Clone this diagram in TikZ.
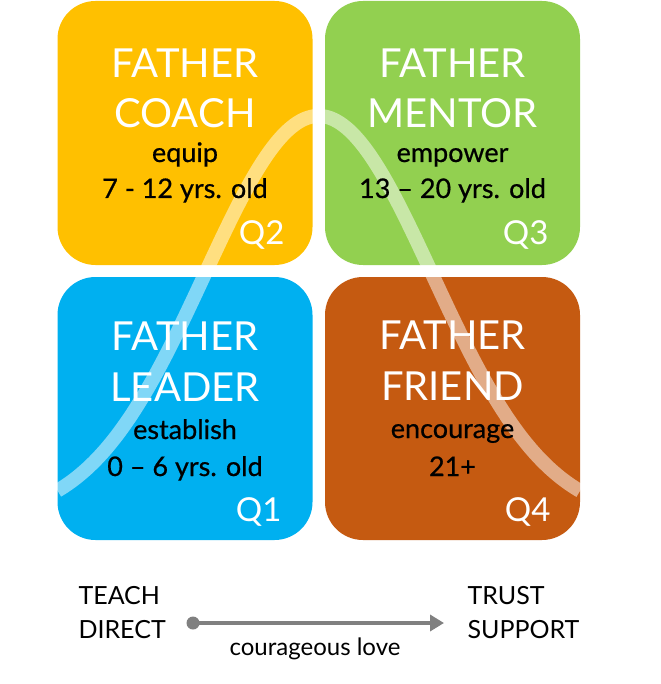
\documentclass[tikz,border=0pt]{standalone}
\usepackage{fontspec}
\setmainfont{Lato}
\newfontfamily\latomed{Lato}[FakeBold=0.6]
\usetikzlibrary{arrows.meta}
\definecolor{cyel}{HTML}{FFC000}
\definecolor{cgrn}{HTML}{92D050}
\definecolor{cblu}{HTML}{00B0F0}
\definecolor{corg}{HTML}{C55A11}
\definecolor{cgry}{HTML}{808080}
\begin{document}
\begin{tikzpicture}[x=1pt,y=-1pt,
  box/.style={rectangle, rounded corners=38pt, minimum width=255pt, minimum height=264pt, inner sep=0pt, draw=none},
  ttl/.style={anchor=base, text=white, font=\fontsize{40}{40}\selectfont},
  sub/.style={anchor=base, text=black, font=\latomed\fontsize{27}{27}\selectfont},
  qlab/.style={anchor=base east, text=white, font=\fontsize{33}{33}\selectfont},
  bot/.style={anchor=base west, text=black, font=\fontsize{25}{25}\selectfont}]
\useasboundingbox[fill=white] (0,0) rectangle (660,684);
% boxes
\node[box, fill=cyel] (q2) at (185,133) {};
\node[box, fill=cgrn] (q3) at (452.5,133) {};
\node[box, fill=cblu, minimum height=263pt] (q1) at (185,408.5) {};
\node[box, fill=corg, minimum height=263pt] (q4) at (452.5,408.5) {};
% curve
\draw[white, opacity=0.5, line width=14pt] plot[domain=57.5:580, samples=160, smooth]
  (\x, {520 - 404*exp(-0.5*((\x-318.5)/114)^2)});
% Q2
\node[ttl] (q2a) at (185,78) {FATHER};
\node[ttl] (q2b) at (185,128) {COACH};
\node[sub] (q2c) at (185,162) {equip};
\node[sub] (q2d) at (185,198) {7 - 12 yrs. old};
\node[qlab] (q2q) at (288,244) {Q2};
% Q3
\node[ttl] (q3a) at (452.5,78) {FATHER};
\node[ttl] (q3b) at (452.5,128) {MENTOR};
\node[sub] (q3c) at (452.5,162) {empower};
\node[sub] (q3d) at (452.5,198) {13 – 20 yrs. old};
\node[qlab] (q3q) at (552,244) {Q3};
% Q1
\node[ttl] (q1a) at (185,350) {FATHER};
\node[ttl] (q1b) at (185,401) {LEADER};
\node[sub] (q1c) at (185,439) {establish};
\node[sub] (q1d) at (185,476) {0 – 6 yrs. old};
\node[qlab] (q1q) at (285,521) {Q1};
% Q4
\node[ttl] (q4a) at (452.5,349) {FATHER};
\node[ttl] (q4b) at (452.5,400) {FRIEND};
\node[sub] (q4c) at (452.5,438) {encourage};
\node[sub] (q4d) at (452.5,476) {21+};
\node[qlab] (q4q) at (554,521) {Q4};
% bottom
\node[bot] (teach) at (75,604) {TEACH};
\node[bot] (direct) at (75,638) {DIRECT};
\node[bot] (trust) at (464,604) {TRUST};
\node[bot] (support) at (464,638) {SUPPORT};
\node[circle, fill=cgry, minimum size=13pt, inner sep=0pt] (dot) at (193,623) {};
\coordinate (tip) at (444,623);
\draw[cgry, line width=4pt, -{Triangle[length=14pt, width=16pt]}] (dot.center) -- (tip);
\node[anchor=base, font=\fontsize{24}{24}\selectfont] (love) at (315,655) {courageous love};
\end{tikzpicture}
\end{document}
